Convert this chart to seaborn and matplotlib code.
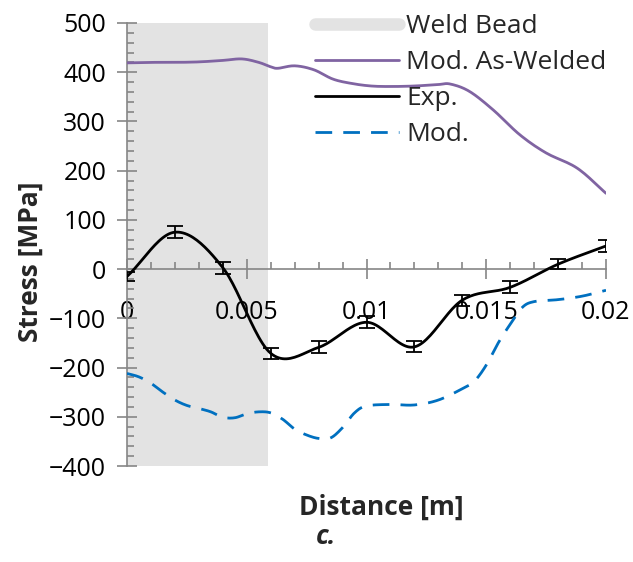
import numpy as np
import pandas as pd
import matplotlib
matplotlib.use("Agg")
import matplotlib.pyplot as plt
from matplotlib.lines import Line2D
from matplotlib.ticker import MultipleLocator, FixedLocator
import seaborn as sns

# ---------------- data ----------------
weld_bead = [0.0, 0.0059]

exp_x = [0.0, 0.002, 0.004, 0.006, 0.008, 0.010, 0.012, 0.014, 0.016, 0.018, 0.020]
exp_y = [-15, 75, 3, -171, -159, -108, -158, -63, -37, 10, 47]
exp_err = [10, 12, 12, 11, 12, 12, 11, 11, 12, 10, 12]

aw_x = [0.0, 0.001, 0.002, 0.003, 0.004, 0.0048, 0.0055, 0.006, 0.0063, 0.007,
        0.0078, 0.0086, 0.0094, 0.0102, 0.011, 0.012, 0.013, 0.0135, 0.0143,
        0.0153, 0.0164, 0.0175, 0.0188, 0.020]
aw_y = [419, 420, 420, 421, 424, 427, 420, 411, 408, 413,
        405, 386, 377, 372, 371, 372, 375, 376, 361,
        323, 273, 236, 205, 154]

mod_x = [0.0, 0.0005, 0.001, 0.0015, 0.002, 0.0025, 0.003, 0.0035, 0.004, 0.0045,
         0.005, 0.0055, 0.006, 0.0065, 0.007, 0.0075, 0.008, 0.0085, 0.009, 0.0095,
         0.010, 0.011, 0.012, 0.013, 0.014, 0.0145, 0.015, 0.0155, 0.016, 0.0165,
         0.017, 0.018, 0.019, 0.020]
mod_y = [-212, -219, -232, -250, -266, -277, -283, -290, -301, -302,
         -294, -290, -292, -305, -325, -337, -344, -343, -322, -292,
         -278, -275, -276, -266, -243, -228, -195, -150, -112, -78,
         -66, -62, -55, -43]

x_ticks = [0, 0.005, 0.01, 0.015, 0.02]
x_tick_labels = ["0", "0.005", "0.01", "0.015", "0.02"]
y_ticks = [-400, -300, -200, -100, 0, 100, 200, 300, 400, 500]

labels = ["Weld Bead", "Mod. As-Welded", "Exp.", "Mod."]

# ---------------- style ----------------
sns.set_style("ticks")
plt.rcParams["font.family"] = ["Open Sans", "DejaVu Sans"]

W, H = 633, 562
DPI = 100
fig = plt.figure(figsize=(W / DPI, H / DPI), dpi=DPI)
ax = fig.add_axes([127 / W, 1 - 466 / H, (606 - 127) / W, (466 - 23) / H])

PURPLE = "#8064a2"
BLUE = "#0070c0"
GRAY_FILL = "#e3e3e3"
AX_GRAY = "#868686"
FS = 19
TICK_FS = 18


def catmull_rom(x, y, n=24):
    """Smoothed rendering of a polyline (like a spreadsheet 'smoothed line')."""
    p = np.column_stack([x, y]).astype(float)
    p = np.vstack([2 * p[0] - p[1], p, 2 * p[-1] - p[-2]])
    out = []
    t = np.linspace(0, 1, n, endpoint=False)[:, None]
    for i in range(1, len(p) - 2):
        p0, p1, p2, p3 = p[i - 1], p[i], p[i + 1], p[i + 2]
        seg = 0.5 * ((2 * p1) + (-p0 + p2) * t + (2 * p0 - 5 * p1 + 4 * p2 - p3) * t ** 2
                     + (-p0 + 3 * p1 - 3 * p2 + p3) * t ** 3)
        out.append(seg)
    out.append(p[-2][None, :])
    out = np.vstack(out)
    return out[:, 0], out[:, 1]


# weld bead region
ax.axvspan(weld_bead[0], weld_bead[1], color=GRAY_FILL, lw=0, zorder=0)

# model lines (smoothed rendering)
ax_x, ax_y = catmull_rom(aw_x, aw_y, n=12)
sns.lineplot(x=ax_x, y=ax_y, ax=ax, color=PURPLE, lw=2.0, sort=False, zorder=3)
mx, my = catmull_rom(mod_x, mod_y, n=12)
sns.lineplot(x=mx, y=my, ax=ax, color=BLUE, lw=2.0, sort=False, zorder=3)
ax.lines[-1].set_dashes((6, 4))

# experiment: smoothed line + error bars
sx, sy = catmull_rom(exp_x, exp_y)
sns.lineplot(x=sx, y=sy, ax=ax, color="black", lw=2.0, sort=False, zorder=4)
ax.errorbar(exp_x, exp_y, yerr=exp_err, fmt="none", ecolor="black",
            elinewidth=1.3, capsize=5.5, capthick=1.3, zorder=5)

# axes
ax.set_xlim(0, 0.02)
ax.set_ylim(-400, 500)
ax.spines["top"].set_visible(False)
ax.spines["right"].set_visible(False)
ax.spines["bottom"].set_position(("data", 0))
for s in ("left", "bottom"):
    ax.spines[s].set_color(AX_GRAY)
    ax.spines[s].set_linewidth(1.2)
    ax.spines[s].set_zorder(2)

ax.xaxis.set_major_locator(FixedLocator(x_ticks))
ax.set_xticklabels(x_tick_labels)
ax.xaxis.set_minor_locator(MultipleLocator(0.001))
ax.yaxis.set_major_locator(FixedLocator(y_ticks))
ax.yaxis.set_minor_locator(MultipleLocator(20))

ax.tick_params(axis="both", which="both", bottom=True, left=True, top=False, right=False)
ax.tick_params(axis="both", which="major", direction="inout", length=14,
               width=1.2, color=AX_GRAY, labelsize=TICK_FS, labelcolor="black")
ax.tick_params(axis="both", which="minor", direction="in", length=5,
               width=1.2, color=AX_GRAY)
ax.tick_params(axis="x", which="major", pad=15)
ax.tick_params(axis="y", which="major", pad=8)
ax.set_xlabel("")
ax.set_ylabel("")

# legend
handles = [
    Line2D([0], [0], color=GRAY_FILL, lw=9, solid_capstyle="round"),
    Line2D([0], [0], color=PURPLE, lw=2.0),
    Line2D([0], [0], color="black", lw=2.0),
    Line2D([0], [0], color=BLUE, lw=2.0, dashes=(6, 4)),
]
leg = ax.legend(handles, labels, loc="upper left",
                bbox_to_anchor=(315 / W, 1 - 14 / H), bbox_transform=fig.transFigure,
                frameon=False, fontsize=FS, handlelength=3.2, handletextpad=0.25,
                labelspacing=0.42, borderpad=0, borderaxespad=0)

# titles
fig.text(30 / W, 1 - 262 / H, "Stress [MPa]", rotation=90, ha="center", va="center",
         fontsize=FS, fontweight="bold")
fig.text(381 / W, 1 - 507 / H, "Distance [m]", ha="center", va="center",
         fontsize=FS, fontweight="bold")
fig.text(326 / W, 1 - 536 / H, "c.", ha="center", va="center",
         fontsize=FS, fontweight="bold", fontstyle="italic")

fig.savefig("out.png", dpi=DPI, facecolor="white")
